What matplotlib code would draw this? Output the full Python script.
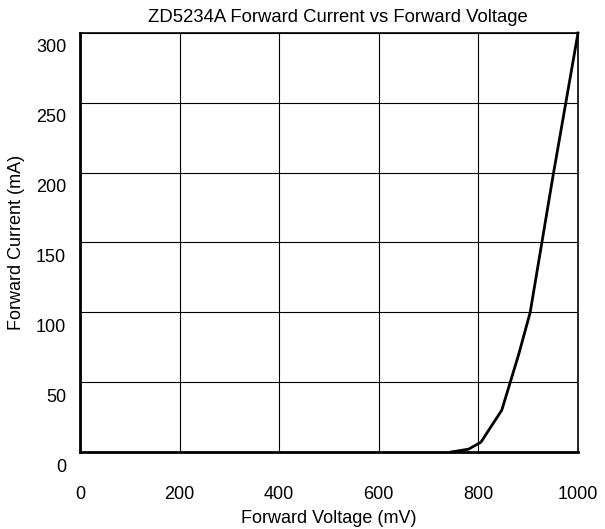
import matplotlib.pyplot as plt
from matplotlib.transforms import ScaledTranslation
import numpy as np

plt.rcParams['font.family'] = ['Liberation Sans', 'DejaVu Sans']

voltage = [745, 780, 805, 847, 881, 904, 950, 1000]
current = [0, 2, 7, 30, 70, 100, 198, 300]
x_ticks = [0, 200, 400, 600, 800, 1000]
y_ticks = [0, 50, 100, 150, 200, 250, 300]

fig = plt.figure(figsize=(6.05, 5.29), dpi=100)
ax = fig.add_axes([80 / 605, 77 / 529, 498 / 605, 419 / 529])

ax.plot(voltage, current, color='black', linewidth=2, clip_on=False, zorder=3)
ax.set_xlim(0, 1000)
ax.set_ylim(0, 300)
ax.set_xticks(x_ticks)
ax.set_yticks(y_ticks)
ax.set_xticklabels([str(v) for v in x_ticks], fontsize=13)
ax.set_yticklabels([str(v) for v in y_ticks], fontsize=13)
ax.tick_params(axis='y', length=0, pad=10)
ax.tick_params(axis='x', length=0, pad=6)
ax.grid(True, color='black', linewidth=0.8)

# labels sit below their tick values in the reference
dy = ScaledTranslation(0, -15 / 100, fig.dpi_scale_trans)
for lab in ax.get_yticklabels():
    lab.set_transform(lab.get_transform() + dy)
    lab.set_va('center')
dxy = ScaledTranslation(0, -26 / 100, fig.dpi_scale_trans)
for lab in ax.get_xticklabels():
    lab.set_transform(lab.get_transform() + dxy)

for side in ['left', 'bottom']:
    ax.spines[side].set_linewidth(2)
for side in ['top', 'right']:
    ax.spines[side].set_linewidth(1.2)

ax.set_title('ZD5234A Forward Current vs Forward Voltage', fontsize=13.3, pad=8)
ax.title.set_x(0.5 + 9 / 498)
ax.set_xlabel('Forward Voltage (mV)', fontsize=13, labelpad=5)
ax.set_ylabel('Forward Current (mA)', fontsize=13)
ax.yaxis.set_label_coords(-0.11, 0.5)

plt.savefig('out.png', dpi=100)
